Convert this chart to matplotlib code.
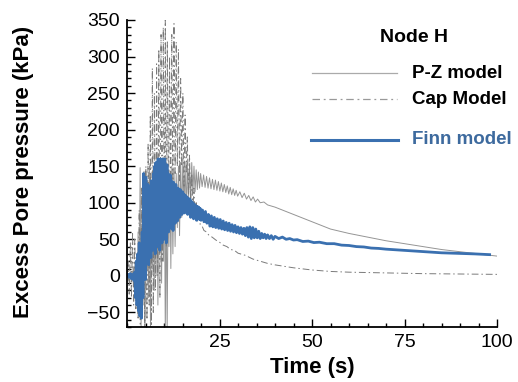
import matplotlib
matplotlib.use('Agg')
import matplotlib.pyplot as plt
from matplotlib.lines import Line2D
from matplotlib.ticker import MultipleLocator

# Finn model (blue)
finn_t = [0.0, 0.3, 0.6, 0.9, 1.2, 1.5, 1.8, 2.1, 2.3, 2.5,
          2.7, 2.9, 3.1, 3.3, 3.5, 3.7, 3.9, 4.1, 4.3, 4.5,
          4.65, 4.8, 4.95, 5.1, 5.25, 5.4, 5.55, 5.7, 5.85, 6.0,
          6.15, 6.3, 6.45, 6.6, 6.75, 6.9, 7.05, 7.2, 7.35, 7.5,
          7.65, 7.8, 7.95, 8.1, 8.25, 8.4, 8.55, 8.7, 8.85, 9.0,
          9.15, 9.3, 9.45, 9.6, 9.75, 9.9, 10.05, 10.2, 10.35, 10.5,
          10.65, 10.8, 10.95, 11.1, 11.25, 11.4, 11.55, 11.7, 11.85, 12.0,
          12.15, 12.3, 12.45, 12.6, 12.75, 12.9, 13.05, 13.2, 13.35, 13.5,
          13.65, 13.8, 13.95, 14.1, 14.25, 14.4, 14.55, 14.7, 14.85, 15.0,
          15.2, 15.4, 15.6, 15.8, 16.0, 16.2, 16.4, 16.6, 16.8, 17.0,
          17.2, 17.4, 17.6, 17.8, 18.0, 18.2, 18.4, 18.6, 18.8, 19.0,
          19.2, 19.4, 19.6, 19.8, 20.0, 20.4, 20.8, 21.2, 21.6, 22.0,
          22.4, 22.8, 23.2, 23.6, 24.0, 24.4, 24.8, 25.2, 25.6, 26.0,
          26.4, 26.8, 27.2, 27.6, 28.0, 28.4, 28.8, 29.2, 29.6, 30.0,
          30.4, 30.8, 31.2, 31.6, 32.0, 32.4, 32.8, 33.2, 33.6, 34.0,
          34.4, 34.8, 35.2, 35.6, 36.0, 36.4, 36.8, 37.2, 37.6, 38.0,
          38.5, 39.0, 39.5, 40.0, 41.0, 42.0, 43.0, 44.0, 45.0, 46.0,
          47.5, 49.0, 50.5, 52.0, 54.0, 56.0, 58.0, 60.0, 62.0, 64.0,
          66.0, 68.0, 70.0, 73.0, 76.0, 79.0, 82.0, 85.0, 88.0, 91.0,
          94.0, 98.0]
finn_v = [0, 2, -2, 3, -4, 2, -6, 5, -30, 20,
          -40, 30, -48, 45, -55, 40, -58, 60, -30, 140,
          10, 120, -5, 135, 20, 110, 30, 125, 15, 100,
          40, 120, 25, 130, 50, 115, 35, 140, 45, 150,
          30, 155, 60, 150, 40, 160, 55, 150, 35, 160,
          60, 158, 45, 160, 70, 155, 50, 160, 65, 150,
          45, 152, 70, 140, 60, 135, 75, 138, 65, 130,
          80, 125, 62, 128, 85, 120, 72, 125, 88, 118,
          75, 120, 90, 115, 80, 118, 92, 112, 84, 115,
          90, 112, 86, 110, 92, 108, 84, 106, 88, 105,
          80, 102, 84, 100, 78, 98, 82, 96, 76, 95,
          80, 94, 77, 92, 76, 90, 74, 88, 72, 84,
          68, 82, 67, 80, 66, 78, 65, 77, 64, 75,
          63, 73, 62, 72, 61, 70, 60, 69, 59, 67,
          58, 66, 57, 65, 55, 66, 53, 67, 51, 66,
          52, 64, 52, 61, 51, 58, 52, 57, 51, 56,
          51, 55, 50, 54, 51, 53, 50, 51, 49, 49.5,
          47, 47.5, 45.5, 46, 44, 44, 42, 41.5, 40, 39.5,
          38, 37.5, 36.5, 35.5, 34.5, 33.5, 32.5, 31.5, 31, 30.5,
          30, 29]

# P-Z model (thin grey)
pz_t = [0.0, 0.4, 0.8, 1.2, 1.6, 2.0, 2.4, 2.8, 3.0, 3.3,
        3.55, 3.8, 4.1, 4.35, 4.6, 4.85, 5.1, 5.35, 5.6, 5.85,
        6.1, 6.35, 6.6, 6.85, 7.1, 7.35, 7.6, 7.85, 8.1, 8.35,
        8.6, 8.85, 9.1, 9.35, 9.6, 9.85, 10.1, 10.35, 10.6, 10.85,
        11.1, 11.35, 11.6, 11.85, 12.1, 12.4, 12.7, 13.0, 13.3, 13.6,
        13.9, 14.2, 14.5, 14.8, 15.1, 15.4, 15.7, 16.0, 16.3, 16.6,
        16.9, 17.2, 17.5, 17.8, 18.1, 18.4, 18.7, 19.0, 19.3, 19.6,
        19.9, 20.3, 20.7, 21.1, 21.5, 21.9, 22.3, 22.7, 23.1, 23.5,
        23.9, 24.3, 24.7, 25.1, 25.5, 25.9, 26.3, 26.7, 27.1, 27.5,
        27.9, 28.3, 28.7, 29.1, 29.5, 29.9, 30.5, 31.1, 31.7, 32.3,
        32.9, 33.5, 34.1, 34.7, 35.3, 36.0, 37.0, 38.0, 40.0, 43.0,
        46.0, 50.0, 55.0, 60.0, 65.0, 70.0, 75.0, 80.0, 85.0, 90.0,
        95.0, 100.0]
pz_v = [0, -5, 4, -8, 6, -10, 12, -20, 60, -40,
        148, -75, 90, -40, 143, -75, 60, 20, 130, -30,
        150, -75, 80, 10, 140, -20, 120, 0, 135, -40,
        110, 30, 145, -10, 150, 20, 140, -80, 120, -80,
        100, 40, 145, 10, 150, 30, 148, 40, 140, 66,
        150, 55, 155, 80, 160, 90, 150, 93, 155, 100,
        150, 105, 155, 112, 150, 115, 145, 118, 142, 120,
        140, 122, 138, 121, 136, 120, 134, 119, 132, 118,
        131, 117, 129, 116, 127, 115, 125, 114, 123, 112,
        121, 111, 119, 110, 117, 109, 115, 107, 113, 105,
        110, 103, 108, 101, 105, 100, 101, 97, 94, 88,
        82, 74, 64, 58, 53, 48, 44, 40, 36, 33,
        30, 27]

# Cap model (dash-dot)
cap_t = [0.0, 0.3, 0.6, 0.9, 1.2, 1.5, 1.8, 2.1, 2.4, 2.7,
         3.0, 3.3, 3.6, 3.9, 4.2, 4.5, 4.8, 5.1, 5.4, 5.7,
         6.0, 6.3, 6.6, 6.85, 7.1, 7.4, 7.7, 8.0, 8.3, 8.6,
         8.9, 9.2, 9.5, 9.8, 10.1, 10.35, 10.6, 10.9, 11.2, 11.5,
         11.8, 12.1, 12.4, 12.7, 13.0, 13.3, 13.6, 13.9, 14.2, 14.5,
         14.8, 15.1, 15.4, 15.7, 16.0, 16.3, 16.6, 16.9, 17.2, 17.5,
         17.8, 18.1, 18.4, 18.7, 19.0, 19.4, 19.8, 20.3, 20.8, 21.5,
         22.2, 23.0, 24.0, 25.0, 26.0, 27.0, 28.0, 29.0, 30.0, 32.0,
         34.0, 36.0, 38.0, 40.0, 45.0, 50.0, 55.0, 60.0, 70.0, 80.0,
         90.0, 100.0]
cap_v = [0, 20, -25, 45, -30, 60, -40, 50, -45, 30,
         -60, 90, -75, 120, -50, 100, -75, 150, -60, 180,
         -40, 220, -75, 284, -50, 250, -20, 290, 0, 310,
         -30, 330, 20, 340, 50, 350, 40, 320, 80, 300,
         100, 330, 120, 345, 140, 320, 150, 310, 130, 270,
         150, 250, 120, 220, 140, 190, 110, 165, 100, 140,
         90, 120, 80, 100, 75, 85, 70, 68, 62, 60,
         55, 53, 49, 46, 42, 40, 36, 35, 31, 28,
         23, 20, 17, 15, 11, 8, 6, 5, 4, 3,
         2.5, 2]

finn_color = '#3a70b0'
pz_color = '#959595'
cap_color = '#7a7a7a'


def plot_pressure():
    plt.rcParams['font.family'] = ['Liberation Sans', 'DejaVu Sans']
    fig = plt.figure(figsize=(5.18, 3.82), dpi=100)
    ax = fig.add_axes([127 / 518, 1 - 327 / 382, 370 / 518, 307 / 382])

    ax.plot(pz_t, pz_v, color=pz_color, lw=0.7)
    ax.plot(cap_t, cap_v, color=cap_color, lw=0.7, dashes=(7, 3, 1.5, 3))
    ax.plot(finn_t, finn_v, color=finn_color, lw=2.0)

    ax.set_xlim(0, 100)
    ax.set_ylim(-70, 350)
    ax.set_xticks([25, 50, 75, 100])
    ax.set_yticks([-50, 0, 50, 100, 150, 200, 250, 300, 350])
    ax.xaxis.set_minor_locator(MultipleLocator(5))
    ax.yaxis.set_minor_locator(MultipleLocator(10))
    ax.tick_params(which='both', direction='in', width=1, labelsize=14)
    ax.tick_params(which='major', length=6)
    ax.tick_params(which='minor', length=3)
    ax.tick_params(axis='y', pad=5)
    ax.tick_params(axis='x', pad=5)
    for side in ['top', 'right']:
        ax.spines[side].set_visible(False)
    for side in ['left', 'bottom']:
        ax.spines[side].set_linewidth(1.3)

    fig.text(312 / 518, 1 - 368 / 382, 'Time (s)', ha='center', va='center',
             fontsize=16, fontweight='bold')
    fig.text(24 / 518, 1 - 172 / 382, 'Excess Pore pressure (kPa)', ha='center',
             va='center', rotation=90, fontsize=16, fontweight='bold')

    # hand made legend
    fig.text(414 / 518, 1 - 37 / 382, 'Node H', ha='center', va='center',
             fontsize=14, fontweight='bold')
    fig.add_artist(Line2D([312 / 518, 397 / 518], [1 - 73 / 382] * 2,
                          color='#aaaaaa', lw=0.9))
    fig.add_artist(Line2D([312 / 518, 397 / 518], [1 - 99 / 382] * 2,
                          color='#999999', lw=0.9, dashes=(6, 3, 1.5, 3)))
    fig.add_artist(Line2D([311 / 518, 398 / 518], [1 - 140 / 382] * 2,
                          color=finn_color, lw=2.2))
    fig.text(412 / 518, 1 - 73 / 382, 'P-Z model', ha='left', va='center',
             fontsize=13.5, fontweight='bold')
    fig.text(412 / 518, 1 - 99 / 382, 'Cap Model', ha='left', va='center',
             fontsize=13.5, fontweight='bold')
    fig.text(412 / 518, 1 - 139 / 382, 'Finn model', ha='left', va='center',
             fontsize=13.5, fontweight='bold', color='#3d6a9e')

    fig.savefig('out.png', dpi=100)


if __name__ == '__main__':
    plot_pressure()
